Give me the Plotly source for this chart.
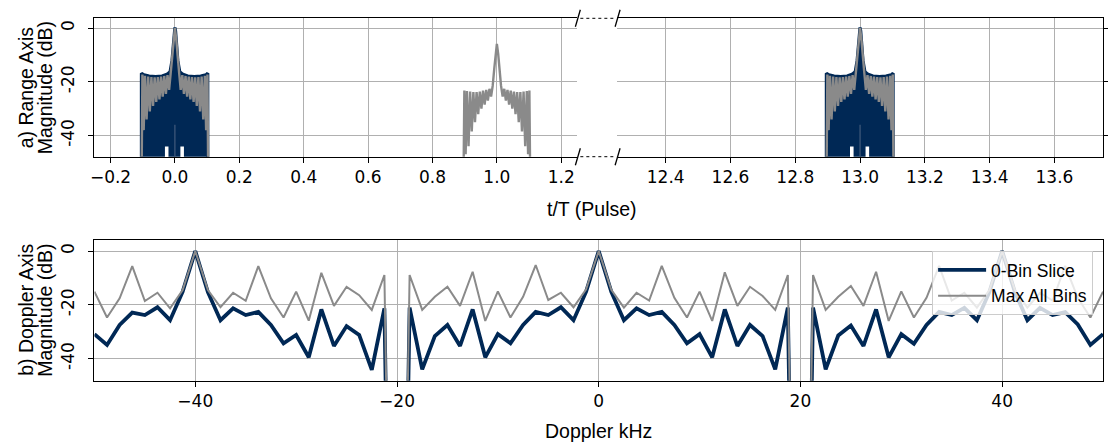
import plotly.graph_objects as go

W, H = 1108, 443
NAVY = "#002855"
GREY = "#8a8a8a"
TICK_FONT = "DejaVu Sans"
LABEL_FONT = "Liberation Sans, Arial, sans-serif"

# ---------------- Data: (a) range axis ----------------
pulse_centres_left = [0.0]          # navy + grey pulse on left segment
echo_centre = [1.0]                 # grey-only pulse
pulse_centres_right = [13.0]        # navy + grey pulse on right segment

# navy (0-bin slice) upper envelope, offsets in t/T from pulse centre
navy_env_t = [-0.104, -0.104, -0.096, -0.08, -0.06, -0.04, -0.025, -0.015, -0.009, -0.005, -0.002, 0.0,
              0.002, 0.005, 0.009, 0.015, 0.025, 0.04, 0.06, 0.08, 0.096, 0.102, 0.102]
navy_env_db = [-49, -16.8, -17.4, -17.8, -18.0, -17.8, -17.2, -16.2, -12.0, -5.0, -1.0, 0.3,
               -1.0, -5.0, -12.0, -16.2, -17.2, -17.8, -18.0, -17.8, -17.4, -16.8, -49]
# white gaps at the bottom of the navy region
notch_t = [0.028, 0.028, 0.017, 0.017, -0.020, -0.020, -0.031, -0.031]
notch_db = [-49, -44.1, -44.1, -49, -49, -44.1, -44.1, -49]

# grey (max all bins) comb, offsets from pulse centre
comb_t = [-0.103, -0.101, -0.097, -0.093, -0.088, -0.083, -0.078, -0.073, -0.068, -0.063, -0.058,
          -0.053, -0.048, -0.043, -0.038, -0.033, -0.028, -0.023, -0.018, -0.013, -0.008, -0.004, 0.0,
          0.004, 0.008, 0.013, 0.018, 0.023, 0.028, 0.033, 0.038, 0.043, 0.048, 0.053, 0.058, 0.063,
          0.068, 0.073, 0.078, 0.083, 0.088, 0.093, 0.097, 0.101, 0.103]
comb_main_db = [-49, -17.3, -38, -17.7, -34, -18.0, -31, -18.2, -29, -18.3, -27.5, -18.2, -26.5, -18.0,
                -25.5, -17.8, -24.5, -17.5, -23, -16.5, -11, -4, 0,
                -4, -11, -16.5, -23, -17.5, -24.5, -17.8, -25.5, -18.0, -26.5, -18.2, -27.5, -18.3,
                -29, -18.2, -31, -18.0, -34, -17.7, -38, -17.3, -49]
comb_echo_db = [-49, -23.2, -47, -23.4, -44, -23.6, -38.5, -23.8, -35, -23.8, -32, -23.6, -30, -23.3,
                -28.5, -23.0, -27, -22.6, -25.5, -21.5, -15, -9.5, -5.8,
                -9.5, -15, -21.5, -25.5, -22.6, -27, -23.0, -28.5, -23.3, -30, -23.6, -32, -23.8,
                -35, -23.8, -38.5, -23.6, -44, -23.4, -47, -23.2, -49]
centre_gap_db = [-49, -36]

left_ticks = [-0.2, 0.0, 0.2, 0.4, 0.6, 0.8, 1.0, 1.2]
left_ticktext = ["\u22120.2", "0.0", "0.2", "0.4", "0.6", "0.8", "1.0", "1.2"]
right_ticks = [12.4, 12.6, 12.8, 13.0, 13.2, 13.4, 13.6]
right_ticktext = ["12.4", "12.6", "12.8", "13.0", "13.2", "13.4", "13.6"]
mag_ticks = [0, -20, -40]
mag_ticktext = ["0", "-20", "-40"]

# ---------------- Data: (b) Doppler axis ----------------
doppler_khz = [round(-50 + 1.25 * k, 2) for k in range(81)]
slice_db = [-30.9, -34.9, -27.5, -22.9, -23.8, -20.9, -25.7, -15.1, 0.0,
            -15.3, -25.7, -21.3, -23.8, -22.6, -27.5, -34.3, -31.2, -39.5, -21.7, -35.3, -27.9, -31.2,
            -44.2, -21.3, -300,
            -21.0, -44.0, -31.6, -27.5, -35.3, -21.7, -39.5, -30.9, -34.3, -27.5, -22.6, -23.8, -20.9,
            -25.7, -15.1, 0.0,
            -15.2, -25.7, -21.3, -23.8, -22.6, -27.5, -34.3, -30.9, -39.5, -21.7, -35.3, -27.5, -31.6,
            -44.0, -21.0, -300,
            -21.0, -44.0, -31.4, -27.7, -35.3, -21.7, -39.5, -30.9, -34.5, -27.5, -22.6, -23.8, -21.1,
            -25.7, -15.1, 0.0,
            -15.1, -25.7, -21.1, -23.8, -22.7, -27.3, -34.9, -30.9]
max_db = [-15.1, -24.7, -17.6, -5.6, -18.6, -15.5, -21.3, -14.5, 0.0,
          -14.5, -20.9, -15.5, -18.5, -5.6, -17.6, -24.7, -15.1, -25.9, -8.1, -20.4, -13.3, -16.4,
          -21.9, -8.9, -300,
          -8.9, -21.9, -17.0, -13.3, -20.4, -7.7, -26.0, -15.0, -24.7, -17.0, -5.2, -18.2, -15.5,
          -20.9, -14.2, 0.0,
          -14.4, -21.0, -15.5, -18.4, -5.5, -17.4, -24.7, -15.1, -26.0, -7.9, -20.4, -13.3, -16.7,
          -21.9, -8.9, -300,
          -8.9, -21.9, -17.0, -13.0, -20.4, -7.7, -26.0, -15.0, -24.7, -17.4, -5.5, -18.4, -15.5,
          -21.0, -14.4, 0.0,
          -14.4, -21.0, -15.5, -18.4, -5.5, -17.4, -24.7, -15.1]
dop_ticks = [-40, -20, 0, 20, 40]
dop_ticktext = ["\u221240", "\u221220", "0", "20", "40"]

assert len(doppler_khz) == len(slice_db) == len(max_db) == 81


def px_x(p):
    return p / W


def px_y(p):
    return 1 - p / H


fig = go.Figure()


def add_pulse(centre, xa, ya, with_navy, comb_db):
    if with_navy:
        poly_t = navy_env_t + notch_t + [navy_env_t[0]]
        poly_db = navy_env_db + notch_db + [navy_env_db[0]]
        fig.add_trace(go.Scatter(x=[centre + t for t in poly_t], y=poly_db, mode="lines",
                                 fill="toself", fillcolor=NAVY, line=dict(width=0),
                                 xaxis=xa, yaxis=ya, showlegend=False, hoverinfo="skip"))
        fig.add_trace(go.Scatter(x=[centre + t for t in navy_env_t], y=navy_env_db, mode="lines",
                                 line=dict(color=NAVY, width=3.2),
                                 xaxis=xa, yaxis=ya, showlegend=False, hoverinfo="skip"))
        fig.add_trace(go.Scatter(x=[centre, centre], y=centre_gap_db, mode="lines",
                                 line=dict(color="#4f6584", width=1),
                                 xaxis=xa, yaxis=ya, showlegend=False, hoverinfo="skip"))
    fig.add_trace(go.Scatter(x=[centre + t for t in comb_t], y=comb_db, mode="lines",
                             line=dict(color=GREY, width=2.4),
                             xaxis=xa, yaxis=ya, showlegend=False, hoverinfo="skip"))


for c in pulse_centres_left:
    add_pulse(c, "x", "y", True, comb_main_db)
for c in echo_centre:
    add_pulse(c, "x", "y", False, comb_echo_db)
for c in pulse_centres_right:
    add_pulse(c, "x2", "y2", True, comb_main_db)

fig.add_trace(go.Scatter(x=doppler_khz, y=slice_db, mode="lines", name="0-Bin Slice",
                         line=dict(color=NAVY, width=3.8), xaxis="x3", yaxis="y3"))
fig.add_trace(go.Scatter(x=doppler_khz, y=max_db, mode="lines", name="Max All Bins",
                         line=dict(color=GREY, width=2), xaxis="x3", yaxis="y3"))

TOP_Y = [px_y(156.7), px_y(18.3)]
BOT_Y = [px_y(380.7), px_y(240.0)]

common = dict(showgrid=True, gridcolor="#b0b0b0", gridwidth=1, zeroline=False,
              ticks="outside", ticklen=5, tickwidth=1, tickcolor="black",
              showline=True, linecolor="black", linewidth=1.2,
              tickfont=dict(family=TICK_FONT, size=17, color="black"))

fig.update_layout(
    width=W, height=H, margin=dict(l=0, r=0, t=0, b=0),
    paper_bgcolor="white", plot_bgcolor="white",
    xaxis=dict(domain=[px_x(91), px_x(577)], range=[-0.25, 1.25], anchor="y", mirror=True,
               tickvals=left_ticks, ticktext=left_ticktext, **common),
    yaxis=dict(domain=TOP_Y, range=[-47.9, 3.7], anchor="x", tickvals=mag_ticks,
               ticktext=mag_ticktext, tickangle=-90, ticklabelstandoff=8, **common),
    xaxis2=dict(domain=[px_x(617), px_x(1106)], range=[12.25, 13.75], anchor="y2", mirror=True,
                tickvals=right_ticks, ticktext=right_ticktext, **common),
    yaxis2=dict(domain=TOP_Y, range=[-47.9, 3.7], anchor="x2", side="right", tickvals=mag_ticks,
                showticklabels=False, **common),
    xaxis3=dict(domain=[px_x(91), px_x(1106)], range=[-50, 50], anchor="y3", mirror=True,
                tickvals=dop_ticks, ticktext=dop_ticktext, **common),
    yaxis3=dict(domain=BOT_Y, range=[-48.2, 4.1], anchor="x3", mirror=True, tickvals=mag_ticks,
                ticktext=mag_ticktext, tickangle=-90, ticklabelstandoff=8, **common),
    legend=dict(x=px_x(934), xanchor="left", y=px_y(251), yanchor="top", itemwidth=48,
                bgcolor="rgba(255,255,255,0.8)", bordercolor="#cccccc", borderwidth=1,
                font=dict(family=LABEL_FONT, size=17.5, color="black")),
)

lab = dict(family=LABEL_FONT, size=19.5, color="black")
annots = [
    ("a) Range Axis", 22, 87.5, -90),
    ("Magnitude (dB)", 41, 87.5, -90),
    ("b) Doppler Axis", 22, 310, -90),
    ("Magnitude (dB)", 41, 310, -90),
    ("t/T (Pulse)", 592, 209, 0),
    ("Doppler kHz", 598, 431, 0),
]
for txt, ax_, ay_, ang in annots:
    fig.add_annotation(text=txt, x=px_x(ax_), y=px_y(ay_), xref="paper", yref="paper",
                       showarrow=False, textangle=ang, xanchor="center", yanchor="middle", font=lab)

# broken-axis marks
for yc in (18.3, 156.7):
    for xc in (577.5, 617.5):
        fig.add_shape(type="line", xref="paper", yref="paper",
                      x0=px_x(xc - 2.5), y0=px_y(yc + 8.5), x1=px_x(xc + 2.5), y1=px_y(yc - 8.5),
                      line=dict(color="black", width=1.3))
    fig.add_shape(type="line", xref="paper", yref="paper",
                  x0=px_x(580), y0=px_y(yc), x1=px_x(615), y1=px_y(yc),
                  line=dict(color="black", width=1, dash="dot"))

fig.write_html("out.html", config={"displayModeBar": False})
